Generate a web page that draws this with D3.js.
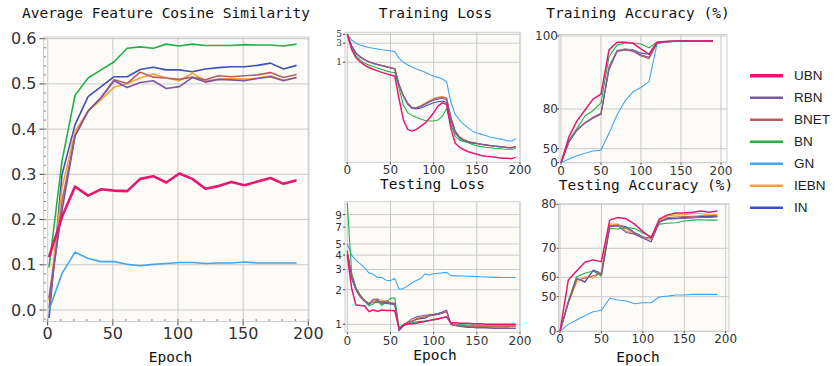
<!DOCTYPE html>
<html><head><meta charset="utf-8">
<script src="https://cdn.jsdelivr.net/npm/d3@7"></script>
<style>
body{margin:0;background:#fff;}
svg{display:block;}
</style></head><body>
<svg id="chart" width="836" height="366"></svg>
<script>
// ---- data ----
const methods = ["UBN", "RBN", "BNET", "BN", "GN", "IEBN", "IN"];
const methodColors = ["#e6176f", "#7d56a4", "#b5605e", "#21b04a", "#3fa7f5", "#f6a233", "#3f51b5"];

// Average feature cosine similarity (sampled every 10 epochs)
const simEpochs = [1, 11, 21, 31, 41, 51, 61, 71, 81, 91, 101, 111, 121, 131, 141, 151, 161, 171, 181, 191];
const simUBN  = [0.117, 0.206, 0.273, 0.253, 0.267, 0.264, 0.263, 0.290, 0.296, 0.282, 0.302, 0.290, 0.268, 0.274, 0.283, 0.276, 0.284, 0.292, 0.279, 0.287];
const simRBN  = [0.026, 0.220, 0.385, 0.440, 0.470, 0.507, 0.492, 0.503, 0.507, 0.490, 0.494, 0.514, 0.504, 0.510, 0.509, 0.507, 0.512, 0.516, 0.507, 0.514];
const simBNET = [0.005, 0.240, 0.385, 0.440, 0.470, 0.509, 0.501, 0.526, 0.515, 0.513, 0.510, 0.515, 0.509, 0.518, 0.516, 0.518, 0.520, 0.525, 0.514, 0.521];
const simBN   = [0.094, 0.330, 0.475, 0.513, 0.531, 0.549, 0.579, 0.582, 0.579, 0.588, 0.584, 0.588, 0.585, 0.585, 0.585, 0.587, 0.586, 0.586, 0.584, 0.588];
const simGN   = [0.000, 0.081, 0.128, 0.114, 0.107, 0.107, 0.101, 0.098, 0.101, 0.103, 0.105, 0.105, 0.103, 0.104, 0.104, 0.106, 0.104, 0.104, 0.104, 0.104];
const simIEBN = [0.020, 0.270, 0.395, 0.440, 0.465, 0.493, 0.501, 0.513, 0.522, 0.513, 0.507, 0.524, 0.507, 0.510, 0.512, 0.510, 0.513, 0.518, 0.508, 0.514];
const simIN   = [-0.018, 0.300, 0.410, 0.472, 0.494, 0.516, 0.516, 0.532, 0.537, 0.531, 0.531, 0.527, 0.533, 0.536, 0.538, 0.538, 0.541, 0.546, 0.533, 0.541];

// Loss curves (sampled every 5 epochs)
const lossEpochs = [0,5,10,15,20,25,30,35,40,45,50,55,60,65,70,75,80,85,90,95,100,105,110,115,120,125,130,135,140,145,150,155,160,165,170,175,180,185,190,195];
const trainLossUBN  = [5.0,2.1,1.3,1.02,0.85,0.74,0.67,0.61,0.56,0.52,0.48,0.45,0.12,0.036,0.021,0.019,0.021,0.025,0.03,0.04,0.055,0.08,0.097,0.088,0.022,0.0095,0.0075,0.0065,0.0058,0.0054,0.005,0.0047,0.0045,0.0044,0.0043,0.0041,0.004,0.004,0.0039,0.0042];
const trainLossRBN  = [5.0,2.6,1.72,1.37,1.17,1.03,0.95,0.88,0.83,0.78,0.73,0.69,0.27,0.145,0.092,0.072,0.072,0.078,0.088,0.1,0.112,0.12,0.126,0.118,0.04,0.018,0.013,0.0112,0.0102,0.0097,0.0094,0.009,0.0087,0.0084,0.0081,0.0079,0.0077,0.0075,0.0074,0.0078];
const trainLossBNET = [5.0,2.55,1.7,1.36,1.16,1.03,0.95,0.88,0.83,0.78,0.73,0.69,0.27,0.145,0.094,0.074,0.073,0.08,0.092,0.106,0.12,0.13,0.136,0.125,0.042,0.019,0.0135,0.0115,0.0104,0.0098,0.0093,0.0089,0.0086,0.0083,0.008,0.0078,0.0076,0.0074,0.0073,0.0076];
const trainLossBN   = [5.0,2.3,1.45,1.15,0.95,0.85,0.78,0.72,0.66,0.61,0.57,0.55,0.22,0.085,0.055,0.047,0.042,0.038,0.035,0.034,0.034,0.036,0.045,0.07,0.028,0.014,0.0115,0.0105,0.0098,0.0088,0.0082,0.0078,0.0075,0.0073,0.0071,0.007,0.0068,0.0067,0.0067,0.007];
const trainLossGN   = [5.0,3.6,3.0,2.7,2.5,2.35,2.24,2.15,2.05,2.0,1.95,1.85,1.25,1.0,0.86,0.76,0.68,0.62,0.56,0.5,0.45,0.42,0.38,0.33,0.1,0.05,0.036,0.028,0.023,0.019,0.017,0.016,0.0148,0.0135,0.013,0.0122,0.0118,0.011,0.0106,0.0122];
const trainLossIEBN = [5.0,2.6,1.72,1.37,1.17,1.04,0.96,0.89,0.84,0.79,0.74,0.7,0.28,0.15,0.095,0.075,0.074,0.082,0.095,0.11,0.125,0.134,0.14,0.13,0.043,0.019,0.0138,0.0118,0.0106,0.0099,0.0094,0.009,0.0086,0.0083,0.0081,0.0079,0.0077,0.0075,0.0074,0.0078];
const trainLossIN   = [5.0,2.6,1.7,1.35,1.15,1.02,0.94,0.87,0.82,0.77,0.72,0.68,0.26,0.14,0.09,0.07,0.068,0.072,0.08,0.088,0.097,0.103,0.108,0.1,0.035,0.017,0.0128,0.011,0.01,0.0095,0.0092,0.0088,0.0085,0.0082,0.008,0.0078,0.0076,0.0073,0.0072,0.0077];

const testLossUBN  = [4.0,2.06,1.47,1.46,1.45,1.29,1.33,1.30,1.33,1.32,1.32,1.31,0.92,0.98,1.0,1.01,1.02,1.04,1.06,1.08,1.1,1.12,1.14,1.16,1.03,1.03,1.02,1.02,1.02,1.01,1.01,1.01,1.0,1.0,1.0,1.0,1.0,1.0,1.0,1.0];
const testLossRBN  = [4.3,2.55,2.0,1.72,1.58,1.5,1.65,1.66,1.5,1.55,1.52,1.5,0.89,0.98,1.05,1.12,1.16,1.18,1.2,1.21,1.22,1.24,1.28,1.33,0.99,0.97,0.96,0.95,0.94,0.94,0.93,0.93,0.93,0.93,0.92,0.92,0.92,0.92,0.92,0.92];
const testLossBNET = [4.4,2.6,2.05,1.78,1.62,1.52,1.55,1.62,1.55,1.6,1.55,1.53,0.9,0.98,1.03,1.07,1.12,1.14,1.16,1.19,1.21,1.23,1.26,1.28,1.01,0.99,0.98,0.97,0.96,0.96,0.95,0.95,0.95,0.95,0.95,0.95,0.95,0.95,0.95,0.95];
const testLossBN   = [11.3,2.8,2.1,1.8,1.6,1.45,1.5,1.59,1.46,1.55,1.68,1.7,0.92,1.0,1.02,1.03,1.05,1.06,1.07,1.08,1.09,1.1,1.14,1.16,1.02,1.0,0.99,0.99,0.98,0.98,0.98,0.97,0.97,0.97,0.97,0.97,0.97,0.97,0.97,0.97];
const testLossGN   = [5.0,4.0,3.6,3.35,3.1,2.8,2.72,2.55,2.55,2.42,2.4,2.5,2.02,2.05,2.17,2.3,2.4,2.5,2.75,2.68,2.75,2.78,2.8,2.83,2.65,2.64,2.64,2.63,2.62,2.61,2.6,2.59,2.58,2.57,2.56,2.56,2.55,2.55,2.55,2.55];
const testLossIEBN = [4.3,2.6,2.05,1.8,1.62,1.52,1.6,1.66,1.62,1.58,1.55,1.5,0.9,1.0,1.04,1.08,1.12,1.15,1.17,1.2,1.22,1.24,1.27,1.3,1.0,0.98,0.98,0.97,0.96,0.96,0.96,0.96,0.96,0.96,0.96,0.96,0.96,0.96,0.96,0.96];
const testLossIN   = [4.2,2.5,2.0,1.75,1.6,1.48,1.62,1.55,1.58,1.52,1.5,1.48,0.88,0.97,1.02,1.06,1.1,1.12,1.13,1.18,1.2,1.22,1.25,1.3,1.0,0.98,0.97,0.96,0.95,0.95,0.94,0.94,0.94,0.93,0.93,0.93,0.93,0.93,0.92,0.92];

// Accuracy curves (sampled every 10 epochs)
const accEpochs = [0,10,20,30,40,50,60,70,80,90,100,110,120,130,140,150,160,170,180,190];
const trainAccUBN  = [0,59.1,71.0,79.2,82.7,84.1,96.2,98.3,98.3,98.0,96.5,95.0,98.3,98.5,98.6,98.6,98.6,98.6,98.6,98.6];
const trainAccRBN  = [0,55.3,64.1,69.5,73.3,76.2,91.0,95.8,96.3,95.9,94.8,94.2,98.1,98.4,98.5,98.6,98.6,98.6,98.6,98.6];
const trainAccBNET = [0,55.5,64.3,69.3,73.0,76.0,90.8,95.7,96.2,95.8,94.5,93.8,98.0,98.4,98.5,98.6,98.6,98.6,98.6,98.6];
const trainAccBN   = [0,56.6,65.5,74.7,78.7,81.7,94.3,97.5,98.1,98.1,97.8,96.8,98.3,98.5,98.6,98.6,98.6,98.6,98.6,98.6];
const trainAccGN   = [0,13.0,25.0,33.6,41.8,45.0,61.6,75.5,82.2,84.7,85.9,87.5,97.8,98.3,98.5,98.6,98.6,98.6,98.6,98.6];
const trainAccIEBN = [0,55.6,64.5,69.6,73.5,76.4,91.2,95.9,96.4,96.0,94.8,94.2,98.1,98.4,98.5,98.6,98.6,98.6,98.6,98.6];
const trainAccIN   = [0,55.3,64.1,69.7,73.7,76.7,91.6,96.0,96.4,96.2,95.3,95.0,98.1,98.4,98.5,98.6,98.6,98.6,98.6,98.6];

const testAccUBN  = [0,58.6,62.2,65.2,66.0,65.4,76.4,77.0,76.7,75.5,73.8,72.4,76.7,77.6,78.0,78.0,78.2,78.5,78.2,78.5];
const testAccRBN  = [0,41,59.5,57.8,62.3,60.9,74.9,75.1,73.6,73.2,72.3,71.5,76.0,76.6,76.7,76.8,76.9,77.0,77.0,77.2];
const testAccBNET = [0,41,58.6,59.5,60.5,61.5,75.1,75.3,74.5,73.4,72.5,71.5,76.1,77.0,77.1,77.2,77.3,77.4,77.4,77.5];
const testAccBN   = [0,44,60.2,61.4,62.2,60.4,74.5,74.4,74.7,74.5,73.5,72.7,75.5,75.7,75.8,76.2,76.4,76.5,76.4,76.4];
const testAccGN   = [0,10,16.3,22.5,28.3,30.3,47.7,45.2,43.8,39.9,41.3,41.3,50.0,50.3,50.9,50.9,51.2,51.2,51.2,51.2];
const testAccIEBN = [0,40,57.4,60.2,59.5,61.9,75.5,75.5,73.9,73.2,72.5,72.0,76.4,77.4,77.6,77.6,77.9,77.9,77.6,77.6];
const testAccIN   = [0,42,59.5,57.4,62.5,61.4,75.1,75.3,74.9,73.6,72.6,72.3,76.0,76.8,76.8,77.0,77.1,77.2,77.2,77.3];

// tick values
const simXTicks = [0, 50, 100, 150, 200];
const simYTicks = [0.0, 0.1, 0.2, 0.3, 0.4, 0.5, 0.6];
const smallXTicks = [0, 50, 100, 150, 200];
const trainLossTicks = [1, 3, 5];
const testLossTicks = [1, 2, 3, 4, 5, 7, 9];
const trainAccTicks = [0, 50, 80, 100];
const testAccTicks = [0, 50, 60, 70, 80];

// ---- drawing ----
const svg = d3.select("#chart");
const MONO = "'DejaVu Sans Mono', monospace";
const SANS = "'DejaVu Sans', sans-serif";
const GRID = "#c9c9c9";
const BG = "#fcfbf8";

let clipCount = 0;

function panel(cfg) {
  const { x, y, box, series, epochs, xTicks, yTicks, yFmt, xFont, yFont, lw, lwMain, yTickFamily } = cfg;
  const g = svg.append("g");
  const [L, T, R, B] = box;
  g.append("rect").attr("x", L).attr("y", T).attr("width", R - L).attr("height", B - T)
    .attr("fill", BG);

  // grid
  g.selectAll(null).data(xTicks).join("line")
    .attr("x1", d => x(d)).attr("x2", d => x(d)).attr("y1", T).attr("y2", B)
    .attr("stroke", GRID).attr("stroke-width", 1);
  g.selectAll(null).data(yTicks).join("line")
    .attr("x1", L).attr("x2", R).attr("y1", d => y(d)).attr("y2", d => y(d))
    .attr("stroke", GRID).attr("stroke-width", 1);

  // minor ticks
  if (cfg.xMinor) {
    g.selectAll(null).data(cfg.xMinor).join("line")
      .attr("x1", d => x(d)).attr("x2", d => x(d)).attr("y1", B).attr("y2", B - 2.5)
      .attr("stroke", "#666").attr("stroke-width", 0.8);
  }
  if (cfg.yMinor) {
    g.selectAll(null).data(cfg.yMinor).join("line")
      .attr("x1", L).attr("x2", L + 2.5).attr("y1", d => y(d)).attr("y2", d => y(d))
      .attr("stroke", "#666").attr("stroke-width", 0.8);
  }

  // border
  g.append("rect").attr("x", L).attr("y", T).attr("width", R - L).attr("height", B - T)
    .attr("fill", "none").attr("stroke", "#cfcfcf").attr("stroke-width", 1);

  // major ticks
  const tl = cfg.tickLen || 3;
  g.selectAll(null).data(xTicks).join("line")
    .attr("x1", d => x(d)).attr("x2", d => x(d)).attr("y1", B).attr("y2", B + tl)
    .attr("stroke", "#444").attr("stroke-width", 1);
  g.selectAll(null).data(yTicks).join("line")
    .attr("x1", L - tl).attr("x2", L).attr("y1", d => y(d)).attr("y2", d => y(d))
    .attr("stroke", "#444").attr("stroke-width", 1);

  // lines
  const id = "clip" + (clipCount++);
  svg.append("clipPath").attr("id", id).append("rect")
    .attr("x", L).attr("y", T).attr("width", R - L).attr("height", B - T);
  const lineGen = d3.line().x((d, i) => x(epochs[i])).y(d => y(d));
  const lg = g.append("g").attr("clip-path", `url(#${id})`);
  // draw in reverse legend order so UBN sits on top
  for (let k = methods.length - 1; k >= 0; k--) {
    lg.append("path").datum(series[k])
      .attr("d", lineGen)
      .attr("fill", "none")
      .attr("stroke", methodColors[k])
      .attr("stroke-width", k === 0 ? lwMain : lw)
      .attr("stroke-linejoin", "round");
  }

  // tick labels
  g.selectAll(null).data(xTicks).join("text")
    .attr("x", d => x(d)).attr("y", B + cfg.xLabelDy)
    .attr("text-anchor", "middle").attr("dominant-baseline", "central")
    .attr("font-family", SANS).attr("font-size", xFont).attr("fill", "#333")
    .text(d => d);
  g.selectAll(null).data(yTicks).join("text")
    .attr("x", L - cfg.yLabelDx).attr("y", d => y(d))
    .attr("text-anchor", "end").attr("dominant-baseline", "central")
    .attr("font-family", yTickFamily || SANS).attr("font-size", yFont).attr("fill", "#333")
    .text(yFmt);

  if (cfg.title) {
    svg.append("text").attr("x", cfg.title[1]).attr("y", cfg.title[2])
      .attr("text-anchor", "middle").attr("dominant-baseline", "central")
      .attr("font-family", MONO).attr("font-size", 14.5).attr("fill", "#111")
      .text(cfg.title[0]);
  }
  if (cfg.xlabel) {
    svg.append("text").attr("x", cfg.xlabel[0]).attr("y", cfg.xlabel[1])
      .attr("text-anchor", "middle").attr("dominant-baseline", "central")
      .attr("font-family", MONO).attr("font-size", 14.5).attr("fill", "#111")
      .text("Epoch");
  }
}

// Average Feature Cosine Similarity
const simX = d3.scaleLinear().domain([0, 200]).range([47.7, 308.3]);
const simY = d3.scaleLinear().domain([0, 0.6]).range([310, 38.7]);
panel({
  x: simX, y: simY, box: [43.5, 37, 309, 321.5],
  series: [simUBN, simRBN, simBNET, simBN, simGN, simIEBN, simIN], epochs: simEpochs,
  xTicks: simXTicks, yTicks: simYTicks, yFmt: d => d.toFixed(1),
  xMinor: d3.range(0, 201, 10), yMinor: d3.range(-0.02, 0.601, 0.02),
  xFont: 16, yFont: 16, lw: 1.6, lwMain: 2.6, tickLen: 4,
  xLabelDy: 12, yLabelDx: 7,
  title: ["Average Feature Cosine Similarity", 166, 12.5],
  xlabel: [170.5, 357]
});

// Training Loss
const tlX = d3.scaleLinear().domain([0, 200]).range([347.3, 520]);
const tlY = d3.scaleLog().domain([0.00316, 5.62]).range([162.3, 32.3]);
panel({
  x: tlX, y: tlY, box: [345, 32.3, 520, 162.3],
  series: [trainLossUBN, trainLossRBN, trainLossBNET, trainLossBN, trainLossGN, trainLossIEBN, trainLossIN], epochs: lossEpochs,
  xTicks: smallXTicks, yTicks: trainLossTicks, yFmt: d => d,
  xFont: 12, yFont: 9, lw: 1.1, lwMain: 1.5, tickLen: 2, yTickFamily: "'DejaVu Serif', serif",
  xLabelDy: 8, yLabelDx: 3,
  title: ["Training Loss", 435.5, 12.5]
});

// Testing Loss
const vlX = d3.scaleLinear().domain([0, 200]).range([347.3, 520]);
const vlY = d3.scaleLog().domain([0.852, 11.65]).range([332.3, 201.7]);
panel({
  x: vlX, y: vlY, box: [345, 201.7, 520, 332.3],
  series: [testLossUBN, testLossRBN, testLossBNET, testLossBN, testLossGN, testLossIEBN, testLossIN], epochs: lossEpochs,
  xTicks: smallXTicks, yTicks: testLossTicks, yFmt: d => d,
  xFont: 12, yFont: 10.5, lw: 1.1, lwMain: 1.5, tickLen: 2,
  xLabelDy: 9, yLabelDx: 3,
  title: ["Testing Loss", 432.5, 184],
  xlabel: [435, 355]
});

// Training Accuracy (%)
const taX = d3.scaleLinear().domain([0, 200]).range([561, 721]);
const taY = d3.scaleLinear().domain([0, 50, 80, 100]).range([162.7, 148.7, 109, 36]);
panel({
  x: taX, y: taY, box: [559, 34.5, 727, 162.7],
  series: [trainAccUBN, trainAccRBN, trainAccBNET, trainAccBN, trainAccGN, trainAccIEBN, trainAccIN], epochs: accEpochs,
  xTicks: smallXTicks, yTicks: trainAccTicks, yFmt: d => d,
  xFont: 12, yFont: 12, lw: 1.1, lwMain: 1.5, tickLen: 2,
  xLabelDy: 8, yLabelDx: 1,
  title: ["Training Accuracy (%)", 638, 12.5]
});

// Testing Accuracy (%)
const vaX = d3.scaleLinear().domain([0, 200]).range([560, 725.7]);
const vaY = d3.scaleLinear().domain([0, 50, 60, 70, 80]).range([331.3, 296.7, 277.3, 248.3, 204.3]);
panel({
  x: vaX, y: vaY, box: [558.5, 203.8, 729, 331.3],
  series: [testAccUBN, testAccRBN, testAccBNET, testAccBN, testAccGN, testAccIEBN, testAccIN], epochs: accEpochs,
  xTicks: smallXTicks, yTicks: testAccTicks, yFmt: d => d,
  xFont: 12, yFont: 12, lw: 1.1, lwMain: 1.5, tickLen: 2,
  xLabelDy: 8, yLabelDx: 2,
  title: ["Testing Accuracy (%)", 646, 185],
  xlabel: [638, 356.5]
});

// Legend
const legend = svg.append("g");
methods.forEach((m, i) => {
  const yy = 75.7 + i * 22;
  legend.append("line").attr("x1", 750).attr("x2", 783).attr("y1", yy).attr("y2", yy)
    .attr("stroke", methodColors[i]).attr("stroke-width", i === 0 ? 3.5 : 2.5);
  legend.append("text").attr("x", 794).attr("y", yy)
    .attr("dominant-baseline", "central")
    .attr("font-family", "'Liberation Sans', Arial, sans-serif").attr("font-size", 13.5).attr("fill", "#222")
    .text(m);
});
</script>
</body></html>
